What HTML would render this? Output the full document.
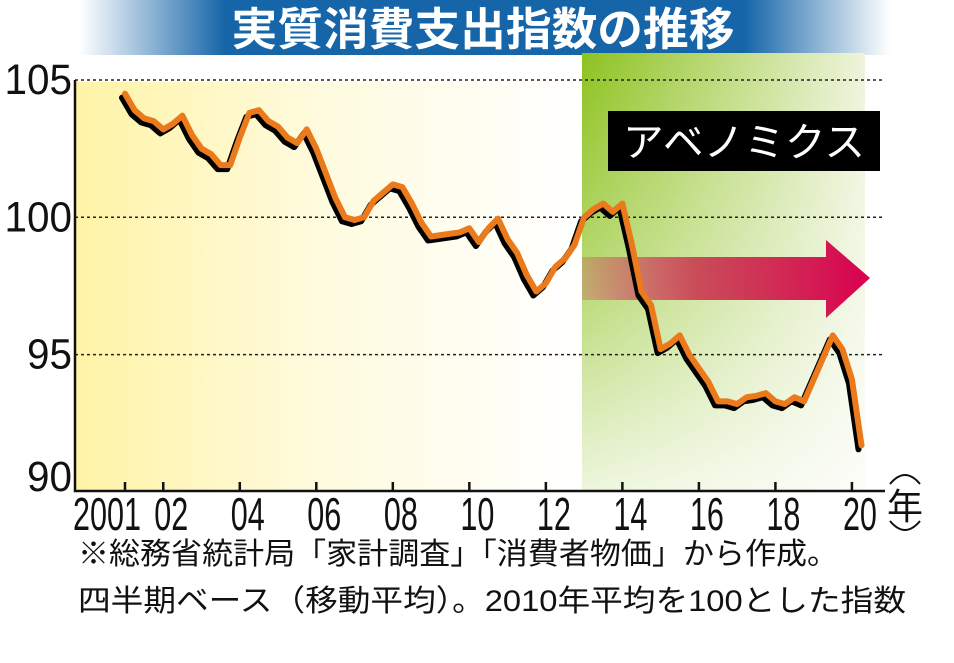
<!DOCTYPE html>
<html><head><meta charset="utf-8"><style>
html,body{margin:0;padding:0;background:#fff;}
svg{display:block;font-family:"Liberation Sans","Noto Sans CJK JP",sans-serif;}
</style></head><body>
<svg id="chart" width="954" height="663" viewBox="0 0 954 663">
<defs>
<linearGradient id="titleG" x1="0" x2="1" y1="0" y2="0">
<stop offset="0" stop-color="#1565a8" stop-opacity="0"/>
<stop offset="0.18" stop-color="#1565a8"/>
<stop offset="0.82" stop-color="#1565a8"/>
<stop offset="1" stop-color="#1565a8" stop-opacity="0"/>
</linearGradient>
<linearGradient id="yelG" x1="0" x2="1" y1="0" y2="0">
<stop offset="0" stop-color="#fff3a6"/>
<stop offset="0.5" stop-color="#fffbe0"/>
<stop offset="1" stop-color="#ffffff"/>
</linearGradient>
<linearGradient id="grnH" x1="0" x2="1" y1="0" y2="0">
<stop offset="0" stop-color="#8dc21f"/>
<stop offset="1" stop-color="#eef4dc"/>
</linearGradient>
<linearGradient id="grnV" x1="0" x2="0" y1="0" y2="1">
<stop offset="0" stop-color="#ffffff" stop-opacity="0"/>
<stop offset="0.55" stop-color="#ffffff" stop-opacity="0.4"/>
<stop offset="1" stop-color="#ffffff" stop-opacity="0.85"/>
</linearGradient>
<linearGradient id="arrG" x1="0" x2="1" y1="0" y2="0">
<stop offset="0" stop-color="#d6004f" stop-opacity="0.2"/>
<stop offset="0.4" stop-color="#c8304a" stop-opacity="0.85"/>
<stop offset="1" stop-color="#d8004e"/>
</linearGradient>
</defs>
<rect x="80" y="0" width="810" height="55" fill="url(#titleG)"/>
<text x="483" y="45" text-anchor="middle" font-size="45" font-weight="bold" fill="#fff" textLength="503" lengthAdjust="spacingAndGlyphs">実質消費支出指数の推移</text>
<rect x="75" y="82" width="507" height="408" fill="url(#yelG)"/>
<rect x="582" y="53" width="283" height="437" fill="url(#grnH)"/>
<rect x="582" y="53" width="283" height="437" fill="url(#grnV)"/>
<g id="grid"></g>
<path d="M582 257 H826 V240 L870 278 L826 318 V300 H582 Z" fill="url(#arrG)"/>
<rect x="608" y="111" width="272" height="60" fill="#000"/>
<text x="744" y="156" text-anchor="middle" font-size="40" fill="#fff" textLength="242" lengthAdjust="spacingAndGlyphs">アベノミクス</text>
<g id="series"></g>
<g id="axes"></g>
<text x="78" y="564" font-size="30" fill="#111" textLength="760" lengthAdjust="spacingAndGlyphs">※総務省統計局「家計調査」「消費者物価」から作成。</text>
<text x="78" y="611" font-size="30" fill="#111" textLength="828" lengthAdjust="spacingAndGlyphs">四半期ベース（移動平均）。2010年平均を100とした指数</text>
</svg>
<script>
const values = [104.5,103.9,103.6,103.5,103.2,103.4,103.7,103.0,102.5,102.3,101.9,101.9,102.9,103.8,103.9,103.5,103.3,102.9,102.7,103.2,102.5,101.6,100.7,100.0,99.9,100.0,100.6,100.9,101.2,101.1,100.5,99.8,99.3,99.35,99.4,99.45,99.6,99.1,99.6,99.95,99.2,98.7,97.9,97.3,97.6,98.2,98.5,99.0,100.0,100.3,100.5,100.2,100.5,99.0,97.3,96.8,95.2,95.4,95.7,95.0,94.5,94.0,93.3,93.3,93.2,93.45,93.5,93.6,93.3,93.2,93.45,93.3,94.1,94.9,95.7,95.2,94.1,91.7];
const startYear = 2001;
const yTicks = [90,95,100,105];
const yTickLabels = ["90","95","100","105"];
const xTickYears = [2001,2002,2004,2006,2008,2010,2012,2014,2016,2018,2020];
const xTickLabels = ["2001","02","04","06","08","10","12","14","16","18","20"];

const NS="http://www.w3.org/2000/svg";
function xS(t){return 125+(t-2001)*38.26;}
function yS(v){return 492-(v-90)*27.47;}
function mk(tag,attrs,parent){const e=document.createElementNS(NS,tag);for(const k in attrs)e.setAttribute(k,attrs[k]);parent.appendChild(e);return e;}
const grid=document.getElementById('grid'),series=document.getElementById('series'),axes=document.getElementById('axes');
yTicks.forEach((v,i)=>{
  if(v>90){
    const l=mk('line',{x1:75,x2:885,y1:yS(v),y2:yS(v),stroke:'#222','stroke-width':1.5,'stroke-dasharray':'3 3'},grid);
    
    
  }
  const lbl=yTickLabels[i];
  const t=mk('text',{x:72,y:yS(v)+(v===90?-1:14),'text-anchor':'end','font-size':43,fill:'#111',textLength:lbl.length*22.5,lengthAdjust:'spacingAndGlyphs'},axes);
  t.textContent=lbl;
  
  
});
const pts=values.map((v,i)=>[xS(startYear+i/4),yS(v)]);
const sh=mk('polyline',{points:pts.map(p=>(p[0]-3)+','+(p[1]+4)).join(' '),fill:'none',stroke:'#000','stroke-width':6,'stroke-linejoin':'round','stroke-linecap':'round'},series);


const ln=mk('polyline',{points:pts.map(p=>p[0]+','+p[1]).join(' '),fill:'none',stroke:'#ea7a1c','stroke-width':6,'stroke-linejoin':'round','stroke-linecap':'round'},series);


const ax=mk('path',{d:'M75 80 V491 H885',fill:'none',stroke:'#111','stroke-width':2.5},axes);


xTickYears.forEach((yr,i)=>{
  const x=xS(yr);
  const tk=mk('line',{x1:x,x2:x,y1:482,y2:491,stroke:'#111','stroke-width':2.5},axes);
  
  
  const lbl=xTickLabels[i];
  const cx=i===0?x-18:x+8;
  const t=mk('text',{x:cx,y:530,'text-anchor':'middle','font-size':46,fill:'#111',textLength:lbl.length*17,lengthAdjust:'spacingAndGlyphs'},axes);
  t.textContent=lbl;
  
  
});
const yl=mk('text',{x:905,y:519,'text-anchor':'middle','font-size':36,fill:'#111'},axes);
yl.textContent='年';


const p1=mk('path',{d:'M890 484 Q905 466 920 484',fill:'none',stroke:'#111','stroke-width':2},axes);


const p2=mk('path',{d:'M890 521 Q905 539 920 521',fill:'none',stroke:'#111','stroke-width':2},axes);


</script>
</body></html>
